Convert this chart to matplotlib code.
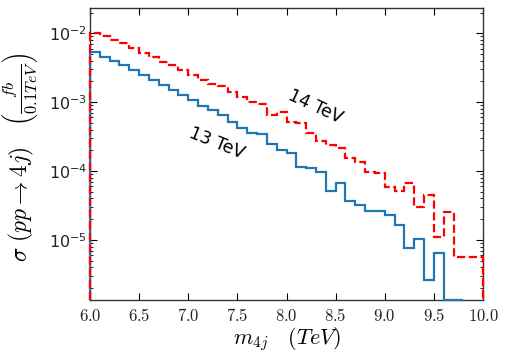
import numpy as np
import matplotlib
matplotlib.use("Agg")
import matplotlib.pyplot as plt

plt.rcParams['mathtext.fontset'] = 'cm'
plt.rcParams['xtick.direction'] = 'in'
plt.rcParams['ytick.direction'] = 'in'
plt.rcParams['xtick.top'] = True
plt.rcParams['ytick.right'] = True

# Cross section per 0.1 TeV bin (fb)

edges_13 = np.round(np.arange(6.0, 9.81, 0.1), 1)
sigma_13 = [5.30e-3, 4.57e-3, 3.96e-3, 3.47e-3, 2.93e-3, 2.48e-3, 2.10e-3, 1.78e-3,
            1.50e-3, 1.27e-3, 1.08e-3, 8.81e-4, 7.71e-4, 6.52e-4, 5.16e-4, 4.22e-4,
            3.57e-4, 3.46e-4, 2.47e-4, 2.02e-4, 1.81e-4, 1.13e-4, 1.10e-4, 9.8e-5,
            5.14e-5, 6.65e-5, 3.62e-5, 3.22e-5, 2.64e-5, 2.64e-5, 2.31e-5, 1.65e-5,
            7.66e-6, 1.02e-5, 2.63e-6, 6.41e-6, 0.0, 0.0]

edges_14 = np.round(np.arange(6.0, 10.01, 0.1), 1)
sigma_14 = [1.01e-2, 8.99e-3, 7.86e-3, 7.11e-3, 6.02e-3, 5.26e-3, 4.53e-3, 3.83e-3,
            3.47e-3, 2.98e-3, 2.52e-3, 2.10e-3, 1.84e-3, 1.72e-3, 1.41e-3, 1.17e-3,
            1.01e-3, 9.26e-4, 6.41e-4, 7.09e-4, 5.21e-4, 5.04e-4, 3.54e-4, 2.74e-4,
            2.39e-4, 2.19e-4, 1.53e-4, 1.37e-4, 9.8e-5, 9.4e-5, 5.88e-5, 5.14e-5,
            6.79e-5, 3.04e-5, 4.43e-5, 1.09e-5, 2.51e-5, 5.61e-6, 5.61e-6, 5.61e-6]

x_ticks = [6.0, 6.5, 7.0, 7.5, 8.0, 8.5, 9.0, 9.5, 10.0]
ylo, yhi = 1.345e-6, 2.33e-2

fig = plt.figure(figsize=(5.07, 3.57), dpi=100)
ax = fig.add_axes([0.1775, 0.160, 0.7752, 0.8176])

ax.set_yscale('log')
ax.stairs(np.maximum(sigma_13, ylo), edges_13, baseline=ylo, color='#1f77b4',
          lw=1.6, zorder=3, clip_on=False)
ax.stairs(np.maximum(sigma_14, ylo), edges_14, baseline=ylo, color='red',
          lw=1.6, ls='--', zorder=3, clip_on=False)

ax.set_xlim(6.0, 10.0)
ax.set_ylim(ylo, yhi)
ax.set_xticks(x_ticks)
ax.set_xticklabels([f'${v:.1f}$' for v in x_ticks])
ax.tick_params(which='major', length=5, width=0.8, labelsize=12, labelcolor='#222222')
ax.tick_params(which='minor', length=2.5, width=0.6)
ax.tick_params(axis='y', pad=2, labelsize=11.5)
ax.tick_params(axis='x', pad=5)
for s in ax.spines.values():
    s.set_linewidth(1.0)
    s.set_color('#333333')

ax.set_xlabel(r'$m_{4j}\quad (TeV)$', fontsize=16, labelpad=0)
ax.set_ylabel(r'$\sigma\ (pp\rightarrow 4j)\quad \left(\frac{fb}{0.1TeV}\right)$',
              fontsize=17)
ax.yaxis.set_label_coords(-0.125, 0.49)

ax.text(8.29, 8.5e-4, '14 TeV', rotation=-25, fontsize=12.5,
        ha='center', va='center')
ax.text(7.29, 2.56e-4, '13 TeV', rotation=-22, fontsize=12.5,
        ha='center', va='center')

fig.savefig('out.png', dpi=100)
